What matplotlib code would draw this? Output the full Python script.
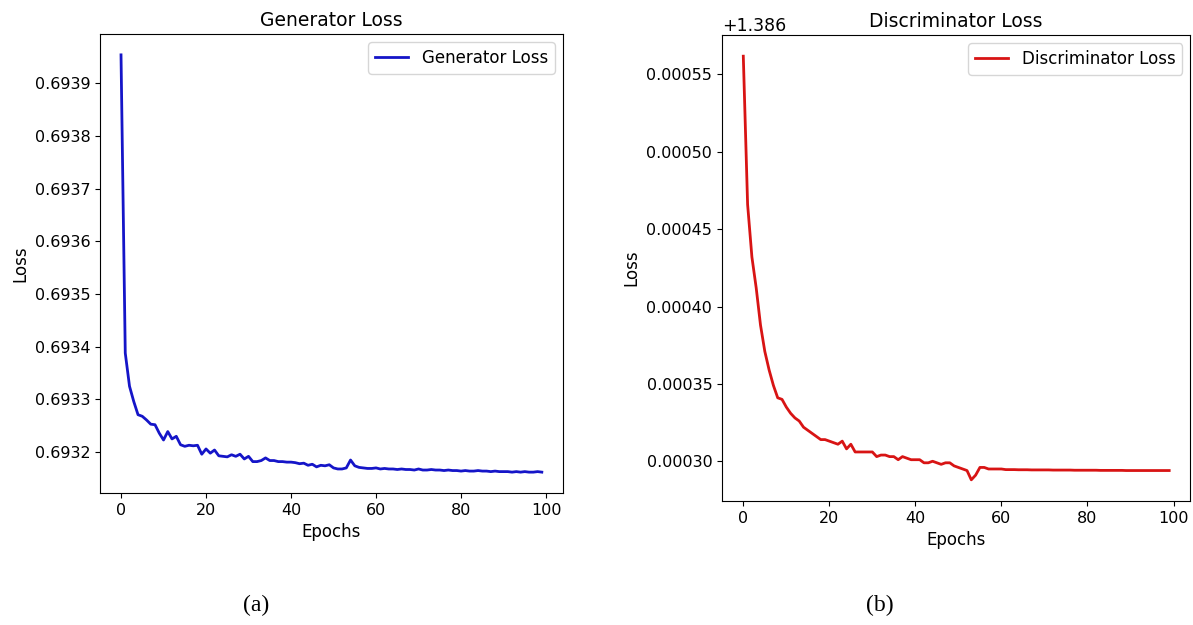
import numpy as np
import matplotlib
matplotlib.use("Agg")
import matplotlib.pyplot as plt

plt.rcParams['font.family'] = ['DejaVu Sans']

# epoci 0..99
epochs = list(range(100))

# valorile (Generator Loss)
gen_loss = [
    0.693954, 0.693388, 0.693325, 0.693296, 0.693271, 0.693268, 0.693261, 0.693253, 0.693252, 0.693236,
    0.693223, 0.693239, 0.693225, 0.693230, 0.693214, 0.693211, 0.693213, 0.693212, 0.693213, 0.693196,
    0.693206, 0.693198, 0.693204, 0.693193, 0.693192, 0.693191, 0.693195, 0.693192, 0.693196, 0.693187,
    0.693192, 0.693182, 0.693182, 0.693184, 0.693189, 0.693184, 0.693184, 0.693182, 0.693182, 0.693181,
    0.693181, 0.693180, 0.693178, 0.693179, 0.693175, 0.693177, 0.693172, 0.693175, 0.693174, 0.693176,
    0.693170, 0.693168, 0.693168, 0.693170, 0.693185, 0.693174, 0.693171, 0.693170, 0.693169, 0.693169,
    0.693170, 0.693168, 0.693169, 0.693168, 0.693168, 0.693167, 0.693168, 0.693167, 0.693167, 0.693166,
    0.693168, 0.693166, 0.693166, 0.693167, 0.693166, 0.693166, 0.693165, 0.693166, 0.693165, 0.693165,
    0.693164, 0.693165, 0.693164, 0.693164, 0.693165, 0.693164, 0.693164, 0.693163, 0.693164, 0.693163,
    0.693163, 0.693163, 0.693162, 0.693163, 0.693162, 0.693163, 0.693162, 0.693162, 0.693163, 0.693162,
]

# Discriminator Loss (valori complete, offset +1.386)
disc_loss = [
    1.3865618, 1.386466, 1.386432, 1.386412, 1.386388, 1.386371, 1.386359, 1.386349, 1.386341, 1.386340,
    1.386335, 1.386331, 1.386328, 1.386326, 1.386322, 1.386320, 1.386318, 1.386316, 1.386314, 1.386314,
    1.386313, 1.386312, 1.386311, 1.386313, 1.386308, 1.386311, 1.386306, 1.386306, 1.386306, 1.386306,
    1.386306, 1.386303, 1.386304, 1.386304, 1.386303, 1.386303, 1.386301, 1.386303, 1.386302, 1.386301,
    1.386301, 1.386301, 1.386299, 1.386299, 1.386300, 1.386299, 1.386298, 1.386299, 1.386299, 1.386297,
    1.386296, 1.386295, 1.386294, 1.386288, 1.386291, 1.386296, 1.386296, 1.386295, 1.386295, 1.386295,
    1.386295, 1.3862946, 1.3862946, 1.3862946, 1.3862945, 1.3862945, 1.3862945, 1.3862944, 1.3862944, 1.3862944,
    1.3862944, 1.3862944, 1.3862943, 1.3862943, 1.3862943, 1.3862943, 1.3862943, 1.3862942, 1.3862942, 1.3862942,
    1.3862942, 1.3862942, 1.3862942, 1.3862941, 1.3862941, 1.3862941, 1.3862941, 1.3862941, 1.3862941, 1.386294,
    1.386294, 1.386294, 1.386294, 1.386294, 1.386294, 1.386294, 1.386294, 1.386294, 1.386294, 1.386294,
]

fig = plt.figure(figsize=(11.93, 6.25), dpi=100)

# graficul (a) - generator
ax1 = fig.add_axes([0.0838, 0.2112, 0.388, 0.7344])
ax1.plot(epochs, gen_loss, color='#1515c8', linewidth=2, label='Generator Loss')
ax1.set_title('Generator Loss', fontsize=13.5)
ax1.set_xlabel('Epochs', fontsize=12)
ax1.set_ylabel('Loss', fontsize=12)
ax1.tick_params(labelsize=11.5)
ax1.ticklabel_format(axis='y', useOffset=False)
ax1.legend(loc='upper right', fontsize=12)

# graficul (b) - discriminator
ax2 = fig.add_axes([0.6052, 0.1984, 0.3927, 0.7456])
ax2.plot(epochs, disc_loss, color='#d81414', linewidth=2, label='Discriminator Loss')
ax2.set_title('Discriminator Loss', fontsize=13.5)
ax2.set_xlabel('Epochs', fontsize=12)
ax2.set_ylabel('Loss', fontsize=12)
ax2.tick_params(labelsize=11.5)
ax2.ticklabel_format(axis='y', useOffset=1.386)
ax2.yaxis.get_offset_text().set_fontsize(12.5)
ax2.legend(loc='upper right', fontsize=12)

# etichetele (a) si (b) sub grafice
fig.text(0.2145, 0.022, '(a)', fontsize=17, family='Liberation Serif', ha='center')
fig.text(0.7375, 0.022, '(b)', fontsize=17, family='Liberation Serif', ha='center')

fig.savefig('out.png', dpi=100)
